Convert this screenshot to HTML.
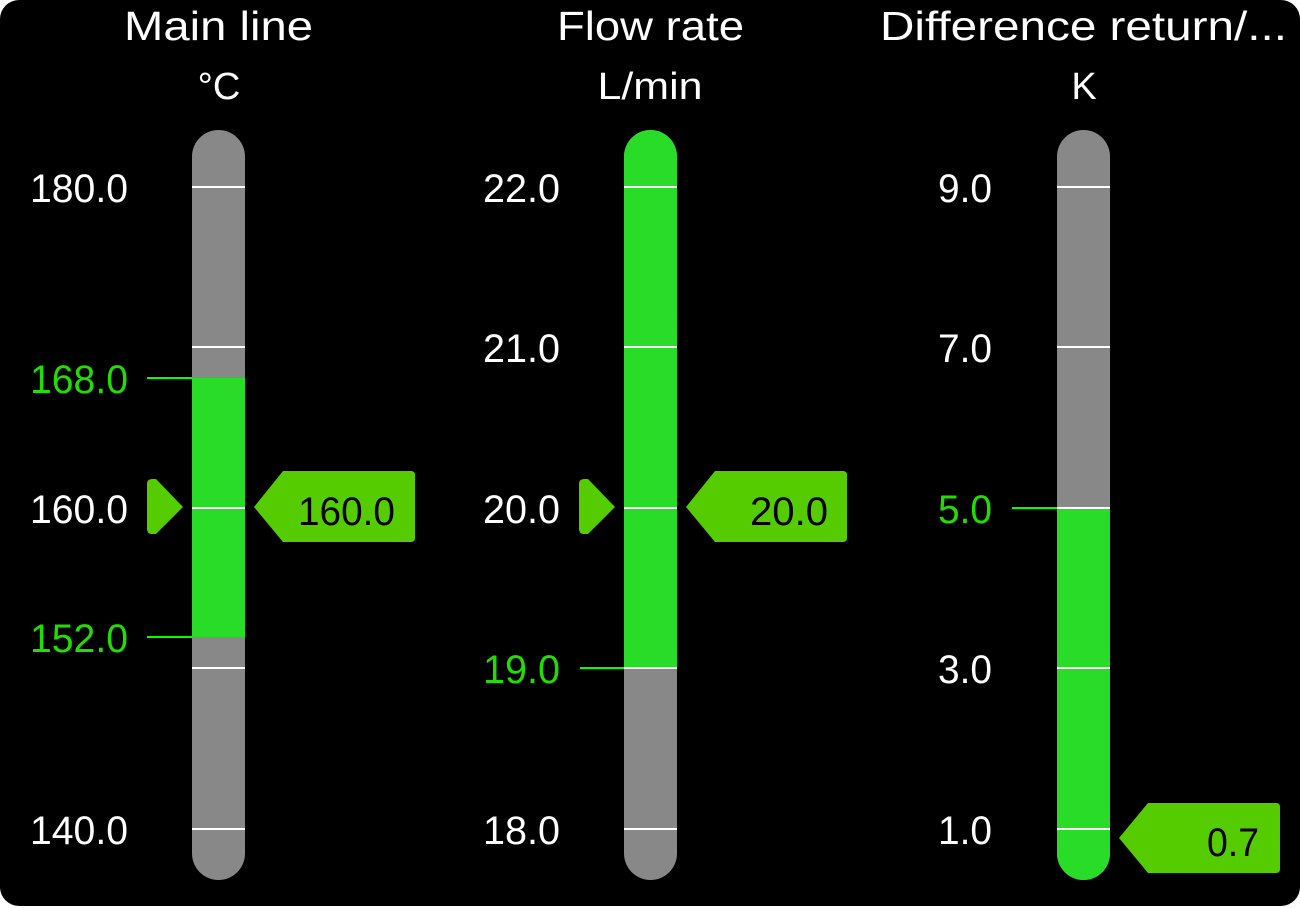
<!DOCTYPE html>
<html><head><meta charset="utf-8"><style>
html,body{margin:0;padding:0;background:#fff;width:1300px;height:908px;overflow:hidden}
svg{display:block}
text{font-family:"Liberation Sans",sans-serif}
</style></head><body>
<svg width="1300" height="908" viewBox="0 0 1300 908" xmlns="http://www.w3.org/2000/svg">
<defs>
<clipPath id="c1"><rect x="192" y="130" width="53" height="750" rx="26.5"/></clipPath>
<clipPath id="c2"><rect x="624" y="130" width="53" height="750" rx="26.5"/></clipPath>
<clipPath id="c3"><rect x="1057" y="130" width="53" height="750" rx="26.5"/></clipPath>
</defs>
<rect x="0" y="0" width="1300" height="906" rx="19" fill="#000"/>

<!-- titles -->
<g fill="#fff" font-size="41">
<text x="124" y="40" textLength="189" lengthAdjust="spacingAndGlyphs">Main line</text>
<text x="557" y="40" textLength="187" lengthAdjust="spacingAndGlyphs">Flow rate</text>
<text x="880" y="40" textLength="407" lengthAdjust="spacingAndGlyphs">Difference return/...</text>
</g>
<g fill="#fff" font-size="38" text-anchor="middle">
<text x="219" y="99">°C</text>
<text x="650" y="99" textLength="105" lengthAdjust="spacingAndGlyphs">L/min</text>
<text x="1084" y="99">K</text>
</g>

<!-- bar 1 -->
<g clip-path="url(#c1)">
<rect x="192" y="130" width="53" height="750" fill="#888"/>
<rect x="192" y="378" width="53" height="259" fill="#28dc28"/>
</g>
<g fill="#fff">
<rect x="192" y="186" width="53" height="2"/>
<rect x="192" y="346" width="53" height="2"/>
<rect x="192" y="507" width="53" height="2"/>
<rect x="192" y="667" width="53" height="2"/>
<rect x="192" y="828" width="53" height="2"/>
</g>
<rect x="147" y="377" width="45" height="2" fill="#00ff00"/>
<rect x="147" y="636" width="45" height="2" fill="#00ff00"/>

<!-- bar 2 -->
<g clip-path="url(#c2)">
<rect x="624" y="130" width="53" height="750" fill="#888"/>
<rect x="624" y="130" width="53" height="538" fill="#28dc28"/>
</g>
<g fill="#fff">
<rect x="624" y="186" width="53" height="2"/>
<rect x="624" y="346" width="53" height="2"/>
<rect x="624" y="507" width="53" height="2"/>
<rect x="624" y="667" width="53" height="2"/>
<rect x="624" y="828" width="53" height="2"/>
</g>
<rect x="580" y="667" width="44" height="2" fill="#00ff00"/>

<!-- bar 3 -->
<g clip-path="url(#c3)">
<rect x="1057" y="130" width="53" height="750" fill="#888"/>
<rect x="1057" y="508" width="53" height="372" fill="#28dc28"/>
</g>
<g fill="#fff">
<rect x="1057" y="186" width="53" height="2"/>
<rect x="1057" y="346" width="53" height="2"/>
<rect x="1057" y="507" width="53" height="2"/>
<rect x="1057" y="667" width="53" height="2"/>
<rect x="1057" y="828" width="53" height="2"/>
</g>
<rect x="1012" y="507" width="45" height="2" fill="#00ff00"/>

<!-- tick labels -->
<g font-size="40" text-anchor="end">
<text x="128" y="202" fill="#fff" textLength="98" lengthAdjust="spacingAndGlyphs">180.0</text>
<text x="128" y="393" fill="#22dd00" textLength="98" lengthAdjust="spacingAndGlyphs">168.0</text>
<text x="128" y="523" fill="#fff" textLength="98" lengthAdjust="spacingAndGlyphs">160.0</text>
<text x="128" y="652" fill="#22dd00" textLength="98" lengthAdjust="spacingAndGlyphs">152.0</text>
<text x="128" y="844" fill="#fff" textLength="98" lengthAdjust="spacingAndGlyphs">140.0</text>

<text x="560" y="202" fill="#fff" textLength="77" lengthAdjust="spacingAndGlyphs">22.0</text>
<text x="560" y="362" fill="#fff" textLength="77" lengthAdjust="spacingAndGlyphs">21.0</text>
<text x="560" y="523" fill="#fff" textLength="77" lengthAdjust="spacingAndGlyphs">20.0</text>
<text x="560" y="683" fill="#22dd00" textLength="77" lengthAdjust="spacingAndGlyphs">19.0</text>
<text x="560" y="844" fill="#fff" textLength="77" lengthAdjust="spacingAndGlyphs">18.0</text>

<text x="992" y="202" fill="#fff" textLength="54" lengthAdjust="spacingAndGlyphs">9.0</text>
<text x="992" y="362" fill="#fff" textLength="54" lengthAdjust="spacingAndGlyphs">7.0</text>
<text x="992" y="523" fill="#22dd00" textLength="54" lengthAdjust="spacingAndGlyphs">5.0</text>
<text x="992" y="683" fill="#fff" textLength="54" lengthAdjust="spacingAndGlyphs">3.0</text>
<text x="992" y="844" fill="#fff" textLength="54" lengthAdjust="spacingAndGlyphs">1.0</text>
</g>

<!-- markers -->
<path d="M147,484 Q147,479 152,479 H156 L183,507 L156,534 H152 Q147,534 147,529 Z" fill="#55cc00"/>
<path d="M579,484 Q579,479 584,479 H588 L615,507 L588,534 H584 Q579,534 579,529 Z" fill="#55cc00"/>

<!-- value boxes -->
<path d="M254,507 L283,471 H411 Q415,471 415,475 V538 Q415,542 411,542 H283 Z" fill="#55cc00"/>
<path d="M686,507 L715,471 H843 Q847,471 847,475 V538 Q847,542 843,542 H715 Z" fill="#55cc00"/>
<path d="M1119,838 L1148,803 H1276 Q1280,803 1280,807 V869 Q1280,873 1276,873 H1148 Z" fill="#55cc00"/>
<g font-size="40" fill="#000" text-anchor="end">
<text x="395" y="525" textLength="97" lengthAdjust="spacingAndGlyphs">160.0</text>
<text x="828" y="525" textLength="78" lengthAdjust="spacingAndGlyphs">20.0</text>
<text x="1259" y="856" textLength="52" lengthAdjust="spacingAndGlyphs">0.7</text>
</g>
</svg>
</body></html>
